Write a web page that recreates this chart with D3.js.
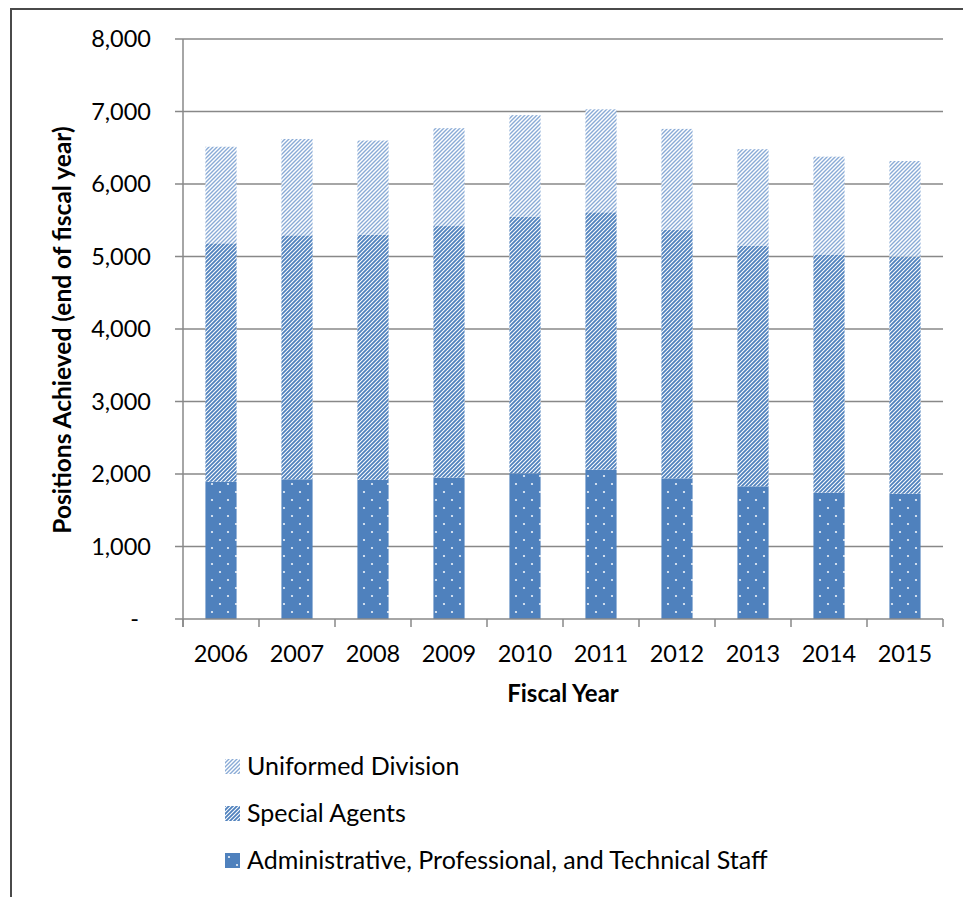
<!DOCTYPE html>
<html>
<head>
<meta charset="utf-8">
<script src="https://cdn.jsdelivr.net/npm/d3@7"></script>
<style>
  body { margin: 0; background: #fff; }
  text { font-family: Lato, "Open Sans", sans-serif; fill: #000; }
  .axis-title { font-size: 24px; font-weight: bold; }
  .legend-label { font-size: 25px; }
</style>
</head>
<body>
<svg id="chart" width="963" height="897"></svg>
<script>
// Fiscal years on the x axis
var years = ['2006', '2007', '2008', '2009', '2010', '2011', '2012', '2013', '2014', '2015'];
// Positions by category
var adminStaff = [1894, 1927, 1920, 1950, 2010, 2060, 1940, 1830, 1742, 1728];
var specialAgents = [3288, 3365, 3380, 3470, 3540, 3550, 3430, 3320, 3279, 3269];
var uniformed = [1332, 1329, 1300, 1350, 1400, 1420, 1390, 1330, 1356, 1320];
var yTicks = [0, 1000, 2000, 3000, 4000, 5000, 6000, 7000, 8000];
var seriesNames = ['Administrative, Professional, and Technical Staff', 'Special Agents', 'Uniformed Division'];

var svg = d3.select('#chart');
var defs = svg.append('defs');

// Light stripes for Uniformed Division
var p1 = defs.append('pattern').attr('id', 'pUD').attr('patternUnits', 'userSpaceOnUse')
  .attr('width', 4).attr('height', 4);
p1.append('rect').attr('width', 4).attr('height', 4).attr('fill', '#fff');
p1.append('path').attr('d', 'M-1,1 l2,-2 M0,4 l4,-4 M3,5 l2,-2')
  .attr('stroke', '#8aabd6').attr('stroke-width', 1.4);

// Darker stripes for Special Agents
var p2 = defs.append('pattern').attr('id', 'pSA').attr('patternUnits', 'userSpaceOnUse')
  .attr('width', 4).attr('height', 4);
p2.append('rect').attr('width', 4).attr('height', 4).attr('fill', '#fff');
p2.append('path').attr('d', 'M-1,1 l2,-2 M0,4 l4,-4 M3,5 l2,-2')
  .attr('stroke', '#4f81bd').attr('stroke-width', 1.8);

// Dotted solid for admin staff
var p3 = defs.append('pattern').attr('id', 'pAPT').attr('patternUnits', 'userSpaceOnUse')
  .attr('width', 16).attr('height', 16);
p3.append('rect').attr('width', 16).attr('height', 16).attr('fill', '#4f81bd');
p3.append('circle').attr('cx', 4).attr('cy', 4).attr('r', 1.1).attr('fill', '#eef3fa');
p3.append('circle').attr('cx', 12).attr('cy', 12).attr('r', 1.1).attr('fill', '#eef3fa');

var fills = ['url(#pAPT)', 'url(#pSA)', 'url(#pUD)'];

// outer frame
svg.append('path').attr('d', 'M11,897 V9 H963')
  .attr('fill', 'none').attr('stroke', '#4a4a4a').attr('stroke-width', 2);

var plotLeft = 183, plotRight = 943, plotTop = 39, plotBottom = 619;

var scaleX = d3.scaleBand().domain(years).range([plotLeft, plotRight])
  .paddingInner(0.59).paddingOuter(0.295);
var scaleY = d3.scaleLinear().domain([0, 8000]).range([plotBottom, plotTop]);

// gridlines
svg.append('g').selectAll('line').data(yTicks.slice(1)).enter().append('line')
  .attr('x1', plotLeft - 8).attr('x2', plotRight)
  .attr('y1', function(d) { return scaleY(d); })
  .attr('y2', function(d) { return scaleY(d); })
  .attr('stroke', '#888').attr('stroke-width', 1.5);

// stacked bars
var table = years.map(function(y, i) {
  return {year: y, apt: adminStaff[i], sa: specialAgents[i], ud: uniformed[i]};
});
var stack = d3.stack().keys(['apt', 'sa', 'ud'])(table);
var barG = svg.append('g');
stack.forEach(function(layer, k) {
  barG.append('g').selectAll('rect').data(layer).enter().append('rect')
    .attr('x', function(d) { return scaleX(d.data.year); })
    .attr('width', scaleX.bandwidth())
    .attr('y', function(d) { return scaleY(d[1]); })
    .attr('height', function(d) { return scaleY(d[0]) - scaleY(d[1]); })
    .attr('fill', fills[k]);
});

// y axis
var axisY = d3.axisLeft(scaleY).tickValues(yTicks).tickSize(0).tickPadding(32)
  .tickFormat(function(d) { return d === 0 ? '-' : d3.format(',')(d); });
var gy = svg.append('g').attr('transform', 'translate(' + plotLeft + ',0)').call(axisY);
gy.select('.domain').remove();
gy.selectAll('text').attr('fill', '#000')
  .style('font-family', 'Lato, sans-serif').style('font-size', '23.5px');
gy.selectAll('.tick').filter(function(d) { return d === 0; }).select('text').attr('dx', -12);

svg.append('line').attr('x1', plotLeft).attr('x2', plotLeft).attr('y1', plotTop).attr('y2', plotBottom + 8)
  .attr('stroke', '#888').attr('stroke-width', 1.5);
svg.append('line').attr('x1', plotLeft - 8).attr('x2', plotRight).attr('y1', plotBottom).attr('y2', plotBottom)
  .attr('stroke', '#888').attr('stroke-width', 1.5);

// x category boundaries
var bounds = years.map(function(y) { return scaleX(y) - (scaleX.step() - scaleX.bandwidth()) / 2; });
bounds.push(plotRight);
svg.append('g').selectAll('line').data(bounds).enter().append('line')
  .attr('x1', function(d) { return d; }).attr('x2', function(d) { return d; })
  .attr('y1', plotBottom).attr('y2', plotBottom + 8)
  .attr('stroke', '#888').attr('stroke-width', 1.5);

var axisX = d3.axisBottom(scaleX).tickSize(0).tickPadding(26);
var gx = svg.append('g').attr('transform', 'translate(0,' + plotBottom + ')').call(axisX);
gx.select('.domain').remove();
gx.selectAll('text').attr('fill', '#000')
  .style('font-family', 'Lato, sans-serif').style('font-size', '23.5px');

// axis titles
svg.append('text').attr('class', 'axis-title').attr('text-anchor', 'middle')
  .attr('x', 563).attr('y', 702).text('Fiscal Year');
svg.append('text').attr('class', 'axis-title').attr('text-anchor', 'middle')
  .style('font-size', '24.5px')
  .attr('transform', 'translate(71,330)rotate(-90)').text('Positions Achieved (end of fiscal year)');

// legend
var legendOrder = [2, 1, 0];
var legend = svg.append('g').selectAll('g').data(legendOrder).enter().append('g')
  .attr('transform', function(d, i) { return 'translate(225,' + (759 + i * 47) + ')'; });
legend.append('rect').attr('width', 15).attr('height', 15)
  .attr('fill', function(d) { return fills[d]; });
legend.append('text').attr('class', 'legend-label').attr('x', 22).attr('y', 16)
  .text(function(d) { return seriesNames[d]; });
</script>
</body>
</html>
